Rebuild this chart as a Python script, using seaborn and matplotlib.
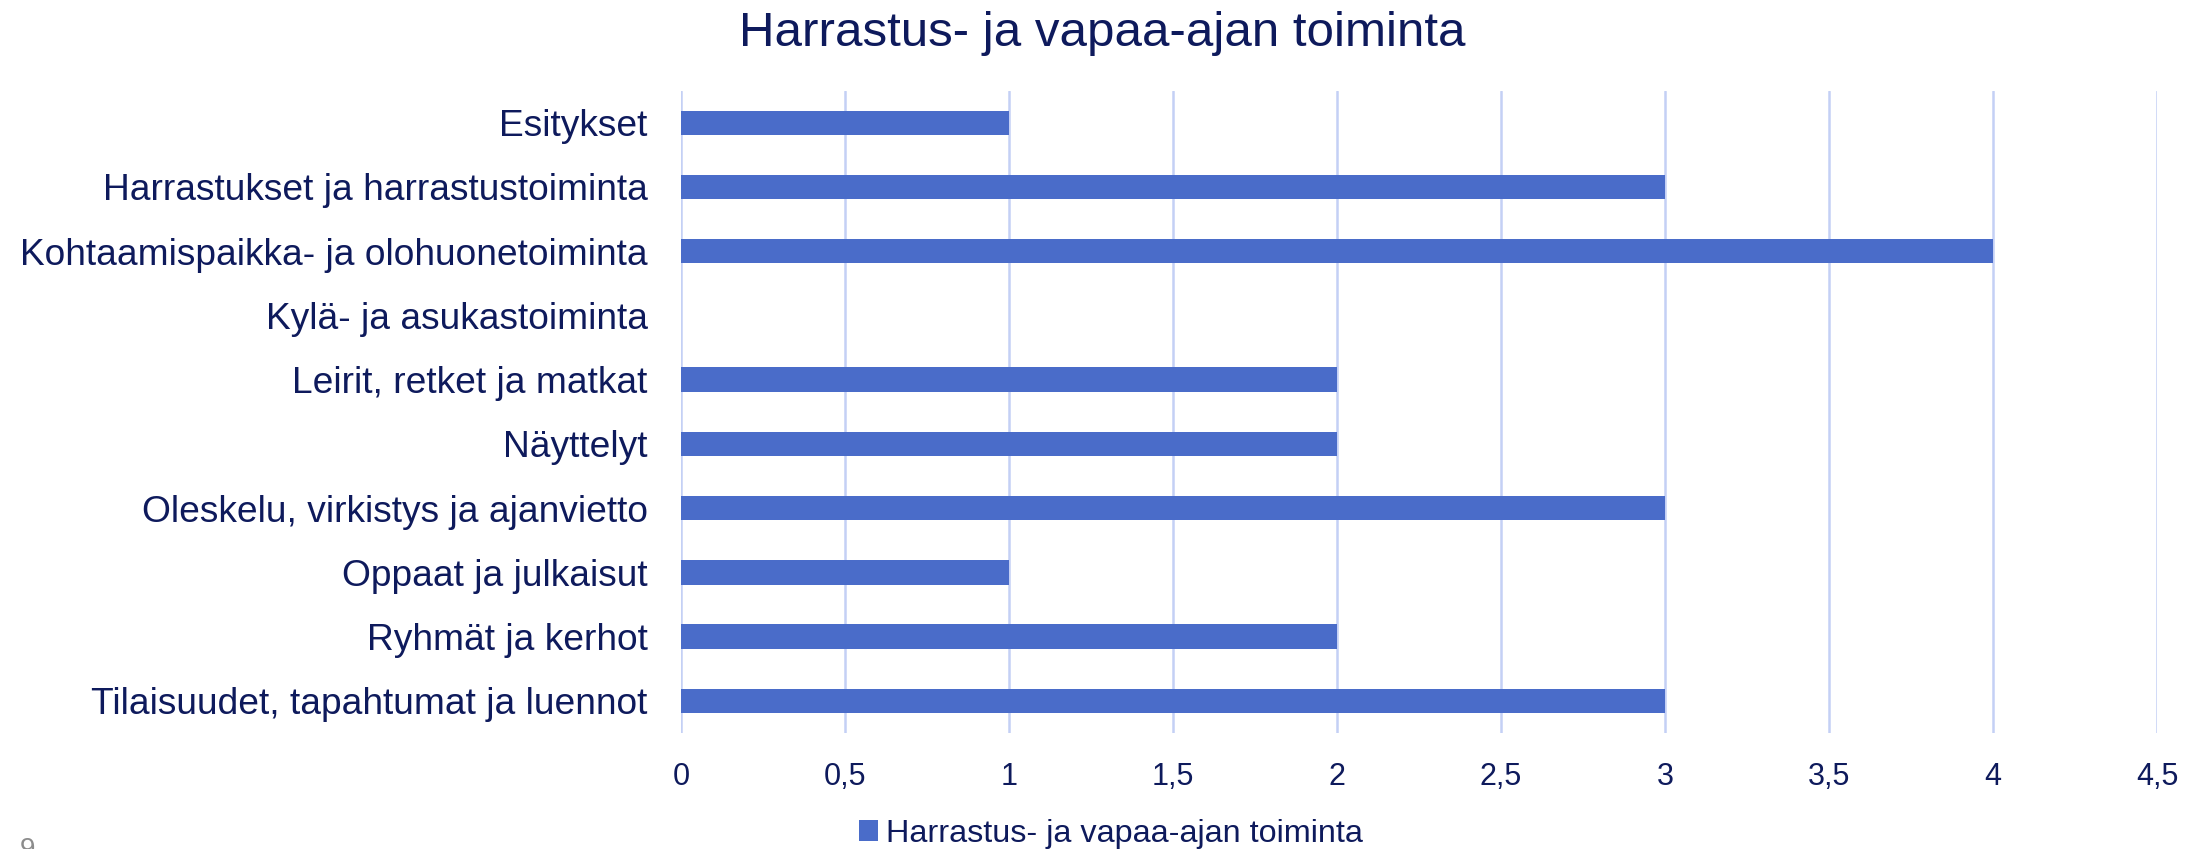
import matplotlib
matplotlib.use("Agg")
import matplotlib.pyplot as plt
import seaborn as sns
import pandas as pd
from matplotlib.patches import Patch

#******************************************************************************
# Data
categories = [
    "Esitykset",
    "Harrastukset ja harrastustoiminta",
    "Kohtaamispaikka- ja olohuonetoiminta",
    "Kylä- ja asukastoiminta",
    "Leirit, retket ja matkat",
    "Näyttelyt",
    "Oleskelu, virkistys ja ajanvietto",
    "Oppaat ja julkaisut",
    "Ryhmät ja kerhot",
    "Tilaisuudet, tapahtumat ja luennot",
]
values = [1, 3, 4, 0, 2, 2, 3, 1, 2, 3]
series_name = "Harrastus- ja vapaa-ajan toiminta"
x_ticks = [0, 0.5, 1, 1.5, 2, 2.5, 3, 3.5, 4, 4.5]
x_ticklabels = ["0", "0,5", "1", "1,5", "2", "2,5", "3", "3,5", "4", "4,5"]

df = pd.DataFrame({"kategoria": categories, "arvo": values})

#****************************************
bar_color = "#4A6CC9"
text_color = "#0E1A5C"
grid_color = "#C4D0F5"

sns.set_style("white")
plt.rcParams["font.family"] = ["Liberation Sans", "DejaVu Sans"]

fig = plt.figure(figsize=(22.04, 8.49), dpi=100)
ax = fig.add_axes([0.309, 0.1366, 0.6697, 0.7567])

sns.barplot(data=df, x="arvo", y="kategoria", orient="h", color=bar_color,
            width=0.38, saturation=1, linewidth=0, edgecolor="none", ax=ax)

ax.set_xlim(0, 4.5)
ax.set_ylim(9.5, -0.5)
ax.set_xticks(x_ticks)
ax.set_xticklabels(x_ticklabels)
ax.set_xlabel("")
ax.set_ylabel("")
ax.xaxis.grid(True, color=grid_color, linewidth=1.8)
ax.set_axisbelow(True)
for s in ax.spines.values():
    s.set_visible(False)
ax.tick_params(axis="y", length=0, pad=24, labelsize=26.7, labelcolor=text_color)
ax.tick_params(axis="x", length=0, pad=21, labelsize=22, labelcolor=text_color)

# title and legend
fig.text(0.5, 0.96, series_name, ha="center", va="center",
         fontsize=35.5, color=text_color)
handle = Patch(facecolor=bar_color, edgecolor="none")
fig.legend([handle], [series_name], loc="center", bbox_to_anchor=(0.504, 0.018),
           frameon=False, fontsize=23.3, labelcolor=text_color,
           handlelength=0.6, handleheight=0.6, handletextpad=0.25)

# page number at the bottom left, partly cut as in the source
fig.text(0.009, 0.014, "9", ha="left", va="top", fontsize=20, color="#8C8C8C")

fig.savefig("out.png", dpi=100)
